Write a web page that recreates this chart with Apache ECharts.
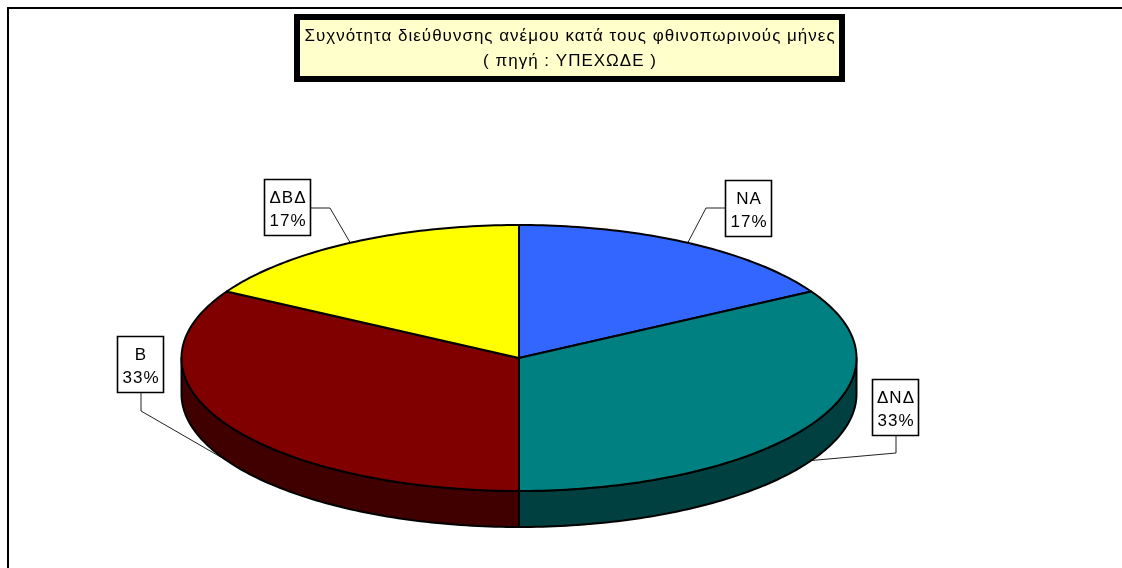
<!DOCTYPE html>
<html>
<head>
<meta charset="utf-8">
<style>html,body{margin:0;padding:0;background:#fff}#c{width:1122px;height:568px}</style>
<script src="https://cdn.jsdelivr.net/npm/echarts@6/dist/echarts.min.js"></script>
</head>
<body>
<div id="c"></div>
<script>
const categories = ['ΝΑ', 'ΔΝΔ', 'Β', 'ΔΒΔ'];
const values = [1, 2, 2, 1];
const topColors = ['#3366FF', '#008080', '#800000', '#FFFF00'];
const sideColors = ['#1A3380', '#004040', '#400000', '#808000'];
const titleLines = ['Συχνότητα διεύθυνσης ανέμου κατά τους φθινοπωρινούς μήνες', '( πηγή : ΥΠΕΧΩΔΕ )'];
// label box [left, top] and the leader's elbow [x, y], layout only
const boxPos = [[725, 180], [872, 379], [117, 336], [264, 179]];
const elbows = [[706, 208], [896, 453], [141, 411], [330, 208]];
const leaderStart = [[725, 208], [896, 435], [141, 392], [311, 208]];

const CX = 519, CY = 358, RX = 337.5, RY = 133, DEPTH = 36;
const FONT = 'Liberation Sans, Arial, sans-serif';
const total = values.reduce((a, b) => a + b, 0);

// The reference text is tracked out; zrender has no letter-spacing option.
const proto = CanvasRenderingContext2D.prototype;
const nativeFillText = proto.fillText;
proto.fillText = function () {
  this.letterSpacing = '1px';
  return nativeFillText.apply(this, arguments);
};

function pt(deg, dy) {
  const a = deg * Math.PI / 180;
  return [CX + RX * Math.sin(a), CY - RY * Math.cos(a) + (dy || 0)];
}
function arc(from, to, dy) {
  const out = [];
  const n = Math.max(2, Math.ceil(Math.abs(to - from)));
  for (let i = 0; i <= n; i++) out.push(pt(from + (to - from) * i / n, dy));
  return out;
}
function range(idx) {
  let s = 0;
  for (let i = 0; i < idx; i++) s += values[i];
  return [s / total * 360, (s + values[idx]) / total * 360];
}

function renderPie(params, api) {
  const i = params.dataIndex;
  const [a, b] = range(i);
  const children = [];
  const from = Math.max(a, 90), to = Math.min(b, 270);
  if (to > from) {
    const front = arc(from, to, 0).concat(arc(to, from, DEPTH));
    children.push({
      type: 'polygon', shape: { points: front },
      style: { fill: sideColors[i], stroke: '#000', lineWidth: 2, lineJoin: 'round' }
    });
  }
  children.push({
    type: 'polygon', shape: { points: [[CX, CY]].concat(arc(a, b, 0)) },
    style: { fill: topColors[i], stroke: '#000', lineWidth: 2, lineJoin: 'round' }
  });
  return { type: 'group', children };
}

function renderLabel(params, api) {
  const i = params.dataIndex;
  const [a, b] = range(i);
  const mid = (a + b) / 2;
  const visibleFront = mid > 90 && mid < 270;
  const end = pt(mid, visibleFront ? DEPTH : 0);
  const pct = Math.round(api.value(0) / total * 100) + '%';
  const [x, y] = boxPos[i];
  return {
    type: 'group',
    children: [
      { type: 'polyline', shape: { points: [leaderStart[i], elbows[i], end] },
        style: { fill: 'none', stroke: '#222', lineWidth: 1 } },
      { type: 'rect', shape: { x: x + 0.5, y: y + 0.5, width: 46, height: 56 },
        style: { fill: '#fff', stroke: '#000', lineWidth: 1.6 } },
      { type: 'text', style: { x: x + 24, y: y + 30.5, text: categories[i] + '\n' + pct,
        font: '17px ' + FONT, lineHeight: 23, fill: '#000', align: 'center', verticalAlign: 'middle' } }
    ]
  };
}

const chart = echarts.init(document.getElementById('c'), null, { renderer: 'canvas' });
chart.setOption({
  animation: false,
  backgroundColor: '#fff',
  graphic: [
    { type: 'polyline', z: 0, shape: { points: [[8, 568], [8, 8], [1122, 8]] },
      style: { fill: 'none', stroke: '#000', lineWidth: 2 } },
    { type: 'rect', z: 5, shape: { x: 297, y: 17, width: 545, height: 62 },
      style: { fill: '#FFFFCC', stroke: '#000', lineWidth: 6 } },
    { type: 'text', z: 6, style: { x: 570, y: 49, text: titleLines.join('\n'), font: '17px ' + FONT,
      lineHeight: 25, fill: '#000', align: 'center', verticalAlign: 'middle' } }
  ],
  series: [
    { type: 'custom', coordinateSystem: 'none', z: 1, silent: true, renderItem: renderLabel,
      data: values.map((v, i) => ({ name: categories[i], value: [v] })) },
    { type: 'custom', coordinateSystem: 'none', z: 2, silent: true, renderItem: renderPie,
      data: values.map((v, i) => ({ name: categories[i], value: [v] })) }
  ]
});
</script>
</body>
</html>
